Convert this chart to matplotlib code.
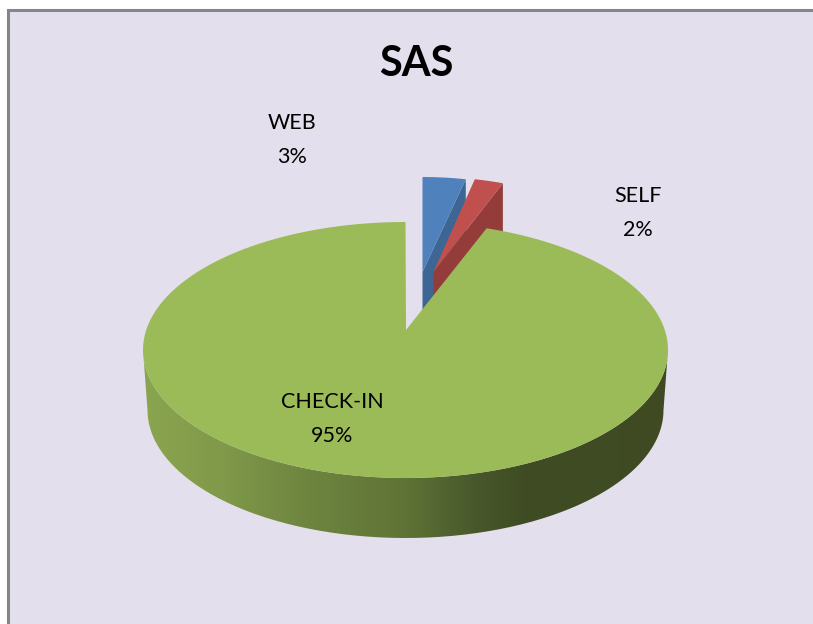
import numpy as np
from matplotlib import pyplot as plt
from matplotlib.colors import LinearSegmentedColormap
from matplotlib.patches import PathPatch, Polygon, Rectangle
from matplotlib.path import Path

title = "SAS"
labels = ["WEB", "SELF", "CHECK-IN"]
values = [3, 2, 95]

top_colors = ["#4f81bd", "#c0504d", "#9bbb59"]
cut_colors = ["#3e6695", "#943c3a"]
label_pos = [(292, 140), (638, 213), (332, 419)]

# pie geometry, in pixels of the figure
cx, cy, rx, ry = 405.5, 350, 262.5, 128
apex_y = 330
depth = 60
rx_bottom = 258
explode_dx = [17, 26]
explode_dy = [-45, -45]
apex_dx = [0, 2]
apex_lift = [13, 13]
explode_scale = 0.88

plt.rcParams["font.family"] = ["Lato", "DejaVu Sans"]

fig = plt.figure(figsize=(8.13, 6.24), dpi=100, facecolor="white")
ax = fig.add_axes([0, 0, 1, 1])
ax.set_xlim(0, 813)
ax.set_ylim(624, 0)
ax.axis("off")

ax.add_patch(Rectangle((8, 10), 830, 640, facecolor="#e4dfec", edgecolor="#868686", linewidth=2.2))

# slice angles, clockwise from 12 o'clock
edges = np.radians(np.cumsum([0] + values) * 3.6)

# exploded slices first, green goes over them
for i in [0, 1]:
    t = np.linspace(edges[i], edges[i + 1], 20)
    x = cx + explode_dx[i] + explode_scale * rx * np.sin(t)
    y = cy + explode_dy[i] - ry * np.cos(t)
    ax_ = cx + explode_dx[i] + apex_dx[i]
    ay_ = apex_y + explode_dy[i] - apex_lift[i]
    cut = [(x[-1], y[-1]), (ax_, ay_), (ax_, ay_ + depth), (x[-1], y[-1] + depth)]
    ax.add_patch(Polygon(cut, closed=True, facecolor=cut_colors[i], edgecolor="none", zorder=2 + i))
    ax.add_patch(Polygon(np.r_[[[ax_, ay_]], np.c_[x, y]], closed=True, facecolor=top_colors[i],
                         edgecolor="none", zorder=2 + i))

# green wall with the horizontal shading
t = np.linspace(np.pi / 2, 3 * np.pi / 2, 200)
wall = np.r_[np.c_[cx + rx * np.sin(t), cy - ry * np.cos(t)],
             np.c_[cx + rx_bottom * np.sin(t[::-1]), cy + depth - ry * np.cos(t[::-1])]]
shade = LinearSegmentedColormap.from_list("wall", [
    (0.0, "#8aa54f"), (0.15, "#80994a"), (0.3, "#6f8640"), (0.5, "#5f7336"),
    (0.63, "#48582c"), (0.72, "#404d24"), (1.0, "#3f4a22")])
grad = np.linspace(0, 1, 256).reshape(1, -1)
im = ax.imshow(grad, cmap=shade, extent=(cx - rx, cx + rx, cy + depth + ry, cy), aspect="auto", zorder=4)
im.set_clip_path(PathPatch(Path(wall), transform=ax.transData))
ax.set_xlim(0, 813)
ax.set_ylim(624, 0)

# green top
t = np.linspace(edges[2], edges[3], 300)
top = np.r_[[[cx + 0.5, apex_y]], np.c_[cx + rx * np.sin(t), cy - ry * np.cos(t)]]
ax.add_patch(Polygon(top, closed=True, facecolor=top_colors[2], edgecolor="none", zorder=5))

ax.text(416, 64, title, fontsize=30, fontweight="bold", ha="center", va="center", color="black", zorder=6)
for name, val, pos in zip(labels, values, label_pos):
    ax.text(pos[0], pos[1], f"{name}\n{val}%", fontsize=15.5, ha="center", va="center",
            linespacing=1.85, color="black", zorder=6)

fig.savefig("out.png", dpi=100)
